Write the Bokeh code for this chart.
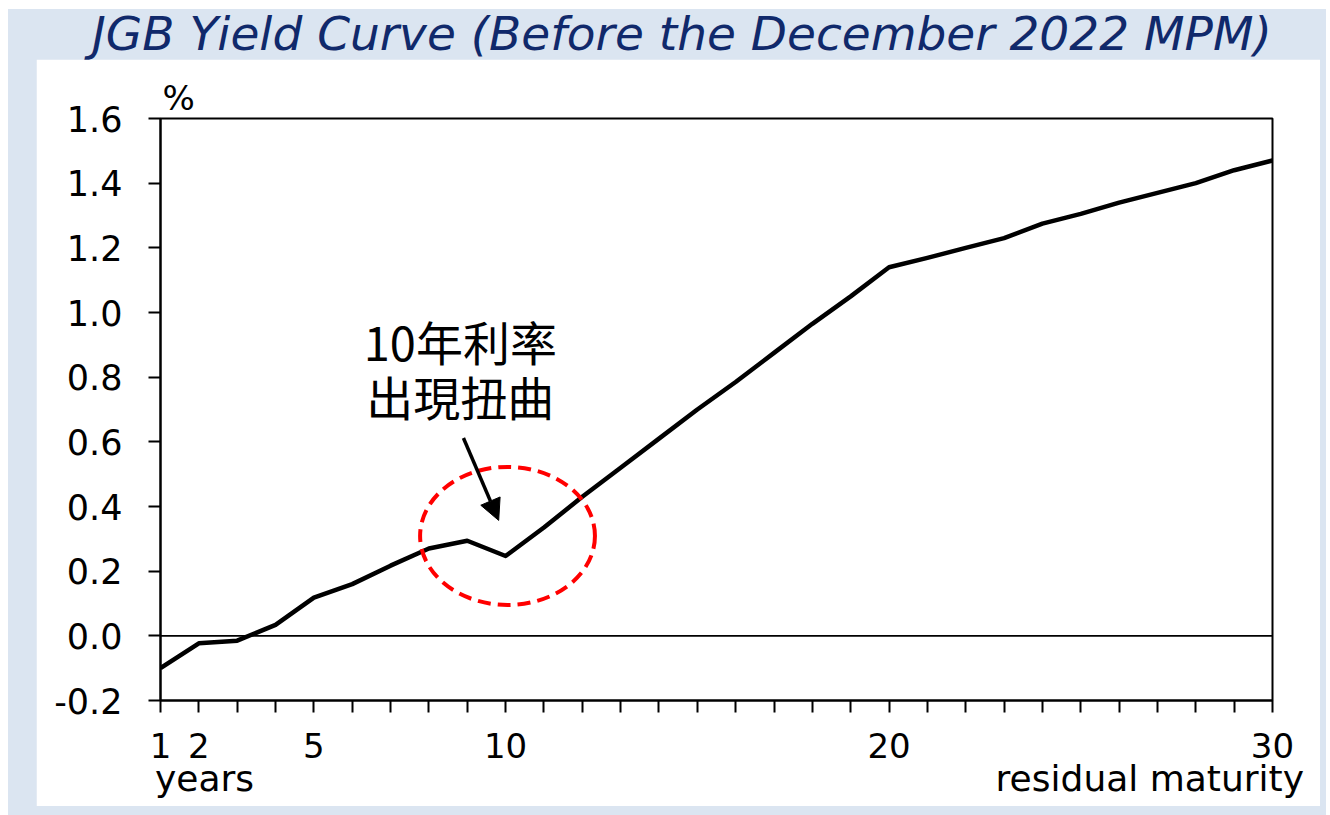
from bokeh.plotting import figure
from bokeh.models import (Range1d, FixedTicker, Span, Label, Arrow, NormalHead,
                          Div, NumeralTickFormatter, LinearAxis, Title)
from bokeh.layouts import column
from bokeh.embed import file_html
from bokeh.resources import INLINE

# JGB yields (%) by residual maturity (years)
maturity = list(range(1, 31))
yields = [-0.10, -0.023, -0.015, 0.034, 0.118, 0.16, 0.217, 0.27, 0.294, 0.247,
          0.335, 0.43, 0.52, 0.61, 0.70, 0.785, 0.875, 0.965, 1.05, 1.14,
          1.169, 1.20, 1.23, 1.275, 1.305, 1.34, 1.37, 1.40, 1.44, 1.47]

x_tick_labels = {1: "1", 2: "2", 5: "5", 10: "10", 20: "20", 30: "30"}
y_ticks = [-0.2, 0.0, 0.2, 0.4, 0.6, 0.8, 1.0, 1.2, 1.4, 1.6]

title_text = "JGB Yield Curve (Before the December 2022 MPM)"
unit_text = "%"
x_captions = {2.15: "years", 26.8: "residual maturity"}
note_lines = ["10年利率", "出現扭曲"]

LATIN = "DejaVu Sans"
CJK = "Noto Sans CJK TC"
PANEL_BG = "#dbe5f1"
FS = "34px"
CAP_FS = "36px"

p = figure(width=1284, height=747,
           x_range=Range1d(1, 30), y_range=Range1d(-0.2, 1.6),
           output_backend="svg", toolbar_location=None,
           min_border_left=124, min_border_right=48,
           min_border_top=59, min_border_bottom=106,
           background_fill_color="white", border_fill_color="white")
p.margin = (0, 6, 9, 28)
p.grid.visible = False
p.outline_line_color = "black"
p.outline_line_width = 2

# x axis: a tick every year, labels at selected maturities
xa = p.xaxis[0]
xa.ticker = FixedTicker(ticks=maturity)
xa.major_label_overrides = {m: x_tick_labels.get(m, "") for m in maturity}
xa.major_tick_out = 12
xa.major_tick_in = 0
xa.minor_tick_out = 0
xa.minor_tick_in = 0
xa.axis_line_width = 2
xa.major_tick_line_width = 2
xa.major_label_standoff = 20
xa.major_label_text_font = LATIN
xa.major_label_text_font_size = FS
xa.major_label_text_color = "black"

# caption row under the x axis
cap = LinearAxis(ticker=FixedTicker(ticks=list(x_captions)),
                 major_label_overrides=x_captions,
                 axis_line_color=None, major_tick_line_color=None,
                 minor_tick_line_color=None, major_label_standoff=-9,
                 major_label_text_font=LATIN, major_label_text_font_size=CAP_FS,
                 major_label_text_color="black")
p.add_layout(cap, "below")

# y axis
ya = p.yaxis[0]
ya.ticker = FixedTicker(ticks=y_ticks)
ya.formatter = NumeralTickFormatter(format="0.0")
ya.major_tick_out = 12
ya.major_tick_in = 0
ya.minor_tick_out = 0
ya.minor_tick_in = 0
ya.axis_line_width = 2
ya.major_tick_line_width = 2
ya.major_label_standoff = 26
ya.major_label_text_font = LATIN
ya.major_label_text_font_size = "35px"
ya.major_label_text_color = "black"

# unit mark above the y axis
p.add_layout(Title(text=unit_text, align="left", offset=2, standoff=2,
                   text_font=LATIN, text_font_size=FS, text_font_style="normal",
                   text_color="black"), "above")

# zero line
p.add_layout(Span(location=0, dimension="width", line_color="black", line_width=1.6))

# yield curve
p.line(maturity, yields, line_color="black", line_width=4.5, line_join="round")

# callout around the 10-year kink
kink_x = maturity[9]
kink_y = yields[9]
p.ellipse(x=kink_x + 0.05, y=kink_y + 0.062, width=4.56, height=0.427,
          fill_color=None, line_color="#ff0000", line_width=4, line_dash="13 7")
p.add_layout(Arrow(end=NormalHead(size=21, fill_color="black", line_color="black"),
                   x_start=kink_x - 1.1, y_start=kink_y + 0.365,
                   x_end=kink_x - 0.18, y_end=kink_y + 0.11,
                   line_color="black", line_width=3.5))
for i, txt in enumerate(note_lines):
    p.add_layout(Label(x=8.82, y=0.912 - 0.17 * i, text=txt,
                       text_font=CJK, text_font_size="47px", text_color="black",
                       text_align="center", text_baseline="middle"))

head = Div(text=(f'<div style="padding-left:84px; font-family:\'{LATIN}\'; '
                 f'font-style:italic; font-size:47px; color:#10296b; '
                 f'line-height:50px; white-space:nowrap;">{title_text}</div>'),
           width=1318, height=50, margin=0)

page = column(head, p, margin=(9, 4, 0, 8),
              styles={"background-color": PANEL_BG})

open("out.html", "w").write(file_html(page, INLINE))
